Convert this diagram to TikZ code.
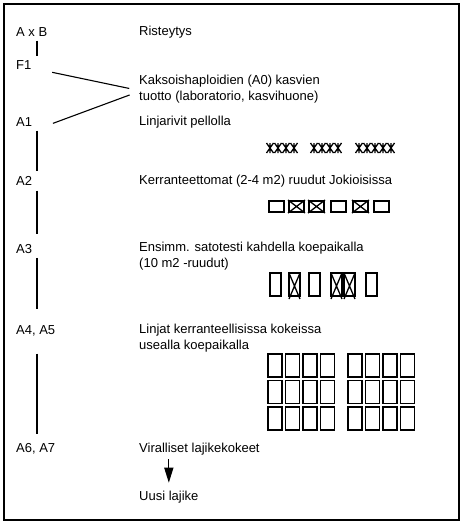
\documentclass[tikz,border=0pt]{standalone}
\usepackage{fontspec}
\setmainfont{Liberation Sans}
\usetikzlibrary{arrows.meta}

\tikzset{
 txt/.style={anchor=west, inner sep=0pt, align=left, font=\fontsize{13}{16}\selectfont},
 stem/.style={line width=1.1pt},
 plot/.style={line width=1.3pt},
}
% one plant of a row: bar with a cross
\newcommand{\taimi}[2]{\draw[plot] (#1,#2-5) -- (#1,#2+5) (#1-3.5,#2-5) -- (#1+3.5,#2+5) (#1-3.5,#2+5) -- (#1+3.5,#2-5);}

\begin{document}
\begin{tikzpicture}[x=1pt,y=-1pt]
\useasboundingbox (0,0) rectangle (461,522);
\draw[line width=1.3pt] (4,4) rectangle (459,520);

% stages on the left, work on the right
\node[txt] (axb) at (16,32) {A x B};
\node[txt] (ristey) at (139,32) {Risteytys};
\node[txt] (f1) at (16,65) {F1};
\node[txt] (dh) at (139,89.5) {Kaksoishaploidien (A0) kasvien\\tuotto (laboratorio, kasvihuone)};
\node[txt] (a1) at (16,122) {A1};
\node[txt] (rivit) at (139,122) {Linjarivit pellolla};
\node[txt] (a2) at (16,181) {A2};
\node[txt] (kerr) at (139,181) {Kerranteettomat (2-4 m2) ruudut Jokioisissa};
\node[txt] (a3) at (16,249) {A3};
\node[txt] (sato) at (139,256) {Ensimm. satotesti kahdella koepaikalla\\(10 m2 -ruudut)};
\node[txt] (a45) at (16,331) {A4, A5};
\node[txt] (linjat) at (139,338) {Linjat kerranteellisissa kokeissa\\usealla koepaikalla};
\node[txt] (a67) at (16,449) {A6, A7};
\node[txt] (viral) at (139,449) {Viralliset lajikekokeet};
\node[txt] (uusi) at (139,497) {Uusi lajike};

\coordinate (st) at (37,0);
\foreach \a/\b/\s/\e in {axb/f1/4/4, a1/a2/4/5, a2/a3/5/10, a3/a45/4/17, a45/a67/17/9}
  \draw[stem, shorten <=\s pt, shorten >=\e pt] (\a.south -| st) -- (\b.north -| st);
\draw[stem, shorten <=21pt, shorten >=10pt] ([yshift=-3pt]f1.east) -- ([yshift=-1pt]dh.west);
\draw[stem, shorten <=10pt, shorten >=22pt] ([yshift=-2pt]dh.west) -- ([yshift=-9pt]a1.east);
\draw[line width=1.3pt, -{Triangle[width=9pt,length=15pt]}, shorten <=4pt, shorten >=8pt] (viral.south -| uusi.north) -- (uusi.north);

% linjarivit
\foreach \x in {270,278,286,294, 314,322,330,338, 359,367,375,383,391}
  {\taimi{\x}{148}}

% kerranteettomat ruudut
\foreach \x in {269,289,309,331,353,374}
  \draw[plot] (\x,201) rectangle ++(15,11);
\foreach \x in {289,309,353}
  \draw[plot] (\x-1,200) -- (\x+16,213) (\x-1,213) -- (\x+16,200);

% satotesti
\foreach \x in {270,289,309,331,344,366}
  \draw[plot] (\x,273) rectangle ++(11,23);
\foreach \x in {289,331,344}
  \draw[plot] (\x,273) -- (\x+11,299) (\x,299) -- (\x+11,273);

% kerranteelliset kokeet
\foreach \r in {0,1,2}
  \foreach \c in {0,...,3} {
    \draw[plot] (268+17.5*\c,354+26.5*\r) rectangle ++(14,23);
    \draw[plot] (348+17.5*\c,354+26.5*\r) rectangle ++(14,23);
  }
\end{tikzpicture}
\end{document}
